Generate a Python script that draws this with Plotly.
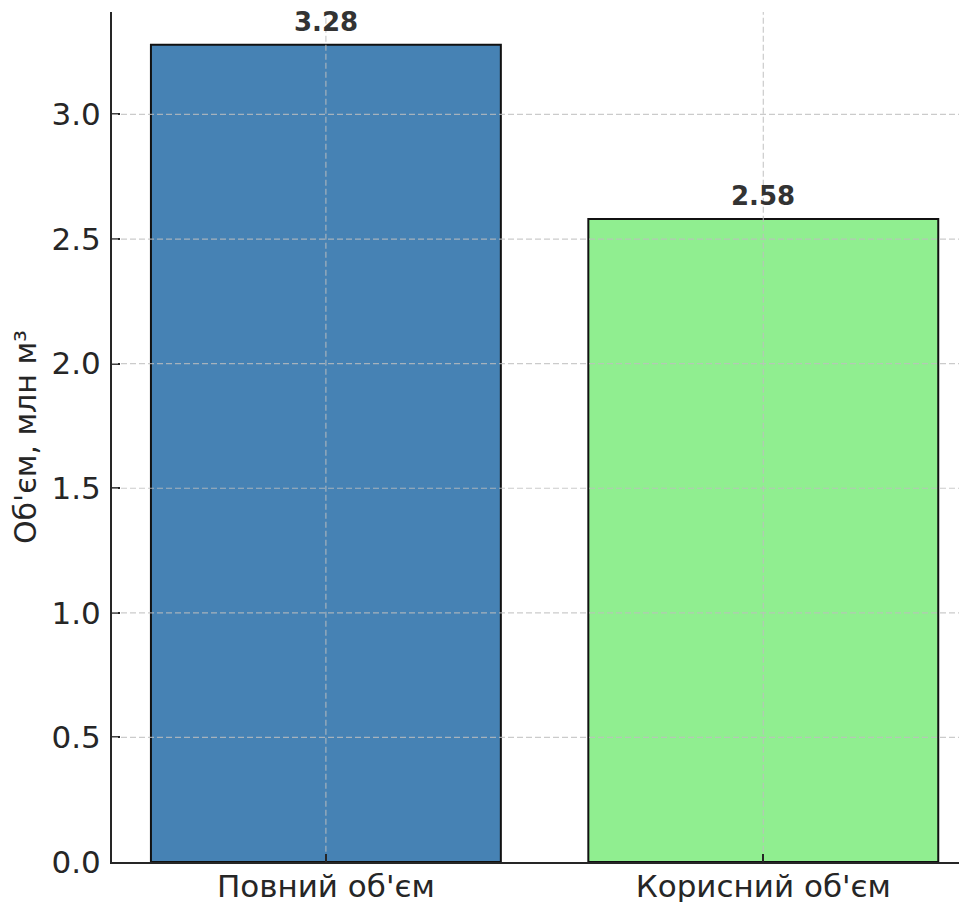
import plotly.graph_objects as go

categories = ["Повний об'єм", "Корисний об'єм"]
values = [3.28, 2.58]
bar_colors = ["#4682B4", "#90EE90"]
y_ticks = [0.0, 0.5, 1.0, 1.5, 2.0, 2.5, 3.0]
y_title = "Об'єм, млн м³"

FONT = "DejaVu Sans"
x_pos = list(range(len(categories)))

fig = go.Figure()
fig.add_trace(go.Bar(
    x=x_pos, y=values, width=0.8,
    marker=dict(color=bar_colors, line=dict(color="#111111", width=2)),
    showlegend=False, hoverinfo="skip",
))

for xi, v in zip(x_pos, values):
    fig.add_annotation(x=xi, y=v, text=f"<b>{v:.2f}</b>", showarrow=False,
                       yanchor="bottom", yshift=6,
                       font=dict(family=FONT, size=26, color="#333333"))

grid_style = dict(color="rgba(190,190,190,0.8)", width=1.2, dash="6px,3px")
for t in y_ticks:
    if t <= 0:
        continue
    fig.add_shape(type="line", xref="paper", x0=0, x1=1, yref="y", y0=t, y1=t,
                  line=grid_style, layer="above")
for xi in x_pos:
    fig.add_shape(type="line", xref="x", x0=xi, x1=xi, yref="paper", y0=0.012, y1=1,
                  line=grid_style, layer="above")

ymax = max(values) * 1.04
fig.update_layout(
    width=967, height=902,
    margin=dict(l=104, r=0, t=4, b=48),
    plot_bgcolor="white", paper_bgcolor="white",
    font=dict(family=FONT, color="#262626"),
    xaxis=dict(range=[-0.489, 1.484], tickvals=x_pos, ticktext=categories,
               showgrid=False, zeroline=False, showline=True, linecolor="#262626",
               linewidth=2, ticks="inside", ticklen=8, tickwidth=2, tickcolor="#262626",
               tickfont=dict(size=31, family=FONT, color="#262626"), layer="above traces",
               automargin=False, ticklabelstandoff=-4),
    yaxis=dict(range=[0, ymax], tickvals=y_ticks, ticktext=[f"{t:.1f}" for t in y_ticks],
               showgrid=False, zeroline=False, showline=True, linecolor="#262626",
               linewidth=2, ticks="inside", ticklen=8, tickwidth=2, tickcolor="#262626",
               tickfont=dict(size=31, family=FONT, color="#262626"), layer="above traces",
               automargin=False, ticklabelstandoff=3,
               title=dict(text=y_title, font=dict(size=30, family=FONT, color="#262626"),
                          standoff=14)),
)

fig.write_html("out.html")
